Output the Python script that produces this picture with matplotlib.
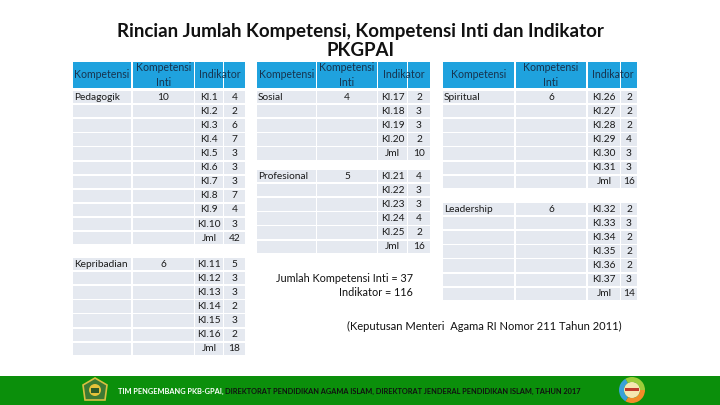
import matplotlib
matplotlib.use("Agg")
import matplotlib.pyplot as plt
from matplotlib.patches import Rectangle, Circle, Polygon, Wedge

# data
kompetensi = ["Pedagogik", "Kepribadian", "Sosial", "Profesional", "Spiritual", "Leadership"]
kompetensi_inti = [10, 6, 4, 5, 6, 6]
indikator = [
    [4, 2, 6, 7, 3, 3, 3, 7, 4, 3],
    [5, 3, 3, 2, 3, 2],
    [2, 3, 3, 2],
    [4, 3, 3, 4, 2],
    [2, 2, 2, 4, 3, 3],
    [2, 3, 2, 2, 2, 3],
]
title_lines = ["Rincian Jumlah Kompetensi, Kompetensi Inti dan Indikator", "PKGPAI"]
headers = ["Kompetensi", "Kompetensi\nInti", "Indikator"]
summary_lines = ["Jumlah Kompetensi Inti = 37", "Indikator = 116"]
source = "(Keputusan Menteri  Agama RI Nomor 211 Tahun 2011)"
footer_a = "TIM PENGEMBANG PKB-GPAI, "
footer_b = "DIREKTORAT PENDIDIKAN AGAMA ISLAM, DIREKTORAT JENDERAL PENDIDIKAN ISLAM, TAHUN 2017"

# layout (pixels)
panels = [
    {"cols": [(73, 131), (133, 194), (195, 223), (224, 245)], "blocks": [(0, 91), (1, 258)]},
    {"cols": [(257, 316), (317, 377), (378, 407), (408, 430)], "blocks": [(2, 91), (3, 170)]},
    {"cols": [(443, 514), (516, 586), (588, 620), (621, 637)], "blocks": [(4, 91), (5, 203)]},
]
pitch = 14.1
cell_h = 12.3
head_top, head_bot = 62, 88
head_bg = "#1fa2de"
cell_bg = "#e5e9f0"
head_fg = "#17344f"
txt = "#1a1a1a"
FONT = "Lato"

fig = plt.figure(figsize=(7.2, 4.05), dpi=100)
ax = fig.add_axes([0, 0, 1, 1])
ax.set_xlim(0, 720)
ax.set_ylim(405, 0)
ax.axis("off")

ax.text(360, 31, title_lines[0], ha="center", va="center", fontsize=13.5, fontweight="bold",
        family=FONT, color="#111111")
ax.text(360, 50, title_lines[1], ha="center", va="center", fontsize=13.5, fontweight="bold",
        family=FONT, color="#111111")

ki_no = 1
for p in panels:
    cols = p["cols"]
    # header
    for i, (x0, x1) in enumerate(cols):
        ax.add_patch(Rectangle((x0, head_top), x1 - x0, head_bot - head_top, color=head_bg, lw=0))
    ymid = (head_top + head_bot) / 2
    ax.text((cols[0][0] + cols[0][1]) / 2, ymid, headers[0], ha="center", va="center",
            fontsize=7.6, family=FONT, color=head_fg)
    ax.text((cols[1][0] + cols[1][1]) / 2, ymid, headers[1], ha="center", va="center",
            fontsize=7.6, family=FONT, color=head_fg, linespacing=1.4)
    ax.text((cols[2][0] + cols[3][1]) / 2, ymid, headers[2], ha="center", va="center",
            fontsize=7.6, family=FONT, color=head_fg)
    for b, top in p["blocks"]:
        vals = indikator[b]
        n = len(vals) + 1
        for r in range(n):
            y0 = top + r * pitch
            yc = y0 + cell_h / 2
            for (x0, x1) in cols:
                ax.add_patch(Rectangle((x0, y0), x1 - x0, cell_h, color=cell_bg, lw=0))
            if r == 0:
                ax.text(cols[0][0] + 1, yc, kompetensi[b], ha="left", va="center",
                        fontsize=7.3, family=FONT, color=txt)
                ax.text((cols[1][0] + cols[1][1]) / 2, yc, str(kompetensi_inti[b]),
                        ha="center", va="center", fontsize=7.3, family=FONT, color=txt)
            if r < len(vals):
                lab, v = "KI.%d" % ki_no, vals[r]
                ki_no += 1
            else:
                lab, v = "Jml", sum(vals)
            ax.text((cols[2][0] + cols[2][1]) / 2, yc, lab, ha="center", va="center",
                    fontsize=7.3, family=FONT, color=txt)
            ax.text((cols[3][0] + cols[3][1]) / 2, yc, str(v), ha="center", va="center",
                    fontsize=7.3, family=FONT, color=txt)

ax.text(413, 279, summary_lines[0], ha="right", va="center", fontsize=7.8, family=FONT, color="#111111")
ax.text(413, 292, summary_lines[1], ha="right", va="center", fontsize=7.8, family=FONT, color="#111111")
ax.text(622, 326, source, ha="right", va="center", fontsize=8.0, family=FONT, color="#111111")

# footer band
ax.add_patch(Rectangle((0, 376), 720, 29, color="#0b8f0b", lw=0))
t1 = ax.text(118, 391, footer_a, ha="left", va="center", fontsize=5.3, fontweight="bold",
             family=FONT, color="white")
ax.annotate(footer_b, xy=(1, 0.5), xycoords=t1, ha="left", va="center", fontsize=5.3,
            fontweight="bold", family=FONT, color="#111111")

# left emblem
ax.add_patch(Polygon([(95, 378), (107, 385), (105, 400), (85, 400), (83, 385)],
                     closed=True, fc="#3d7a33", ec="#d8c040", lw=1.2))
ax.add_patch(Circle((95, 390), 6, color="#e5c23a", lw=0))
ax.add_patch(Rectangle((91, 388), 8, 5, color="#2e5a28", lw=0))
# right logo
for a0, a1, c in [(0, 120, "#f28c28"), (120, 240, "#3aa0d8"), (240, 360, "#9ccc3a")]:
    ax.add_patch(Wedge((632, 390), 13, a0, a1, width=5, color=c, lw=0))
ax.add_patch(Circle((632, 390), 8, color="#f6e7b0", lw=0))
ax.add_patch(Rectangle((625, 388), 14, 3, color="#c0392b", lw=0))

fig.savefig("out.png", dpi=100)
